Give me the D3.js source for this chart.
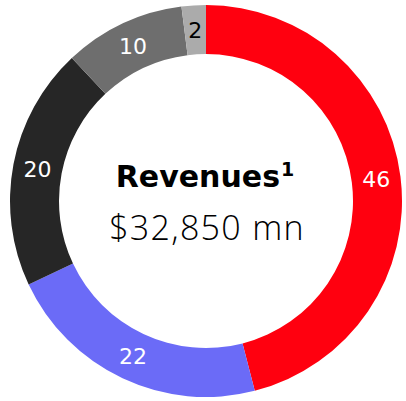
<!DOCTYPE html>
<html><head><meta charset="utf-8">
<script src="https://cdn.jsdelivr.net/npm/d3@7"></script>
<style>html,body{margin:0;padding:0;background:#fff;}svg{display:block;}</style>
</head><body>
<script>
const categories = ["A", "B", "C", "D", "E"];
const values = [46, 22, 20, 10, 2];
const colors = ["#FF000F", "#6B6BF7", "#262626", "#6E6E6E", "#ABABAB"];
const labelColors = ["#ffffff", "#ffffff", "#ffffff", "#ffffff", "#000000"];
const titleText = "Revenues";
const titleSup = "1";
const subtitleText = "$32,850 mn";

const W = 406, H = 401;
const cx = 206, cy = 201, R = 196, r = 147;
const svg = d3.select("body").append("svg").attr("width", W).attr("height", H);
const g = svg.append("g").attr("transform", `translate(${cx},${cy})`);

const data = categories.map((c, i) => ({cat: c, value: values[i], color: colors[i], lc: labelColors[i]}));
const pie = d3.pie().value(d => d.value).sort(null);
const arc = d3.arc().innerRadius(r).outerRadius(R);
const arcs = pie(data);

g.selectAll("path").data(arcs).join("path")
  .attr("d", arc).attr("fill", d => d.data.color);

g.selectAll("text.lbl").data(arcs).join("text")
  .attr("class", "lbl")
  .attr("transform", d => `translate(${arc.centroid(d)})`)
  .attr("text-anchor", "middle").attr("dy", "0.36em")
  .attr("font-family", "DejaVu Sans, sans-serif").attr("font-size", 22)
  .attr("fill", d => d.data.lc)
  .text(d => d.data.value);

const t = g.append("text").attr("text-anchor", "middle").attr("y", -14).attr("x", -1)
  .attr("font-family", "DejaVu Sans, sans-serif").attr("font-size", 30).attr("font-weight", 700).attr("fill", "#000");
t.append("tspan").text(titleText);
t.append("tspan").attr("font-size", 19).attr("dy", -11).attr("dx", 1).text(titleSup);

g.append("text").attr("text-anchor", "middle").attr("y", 39).attr("x", 1)
  .attr("font-family", "Open Sans, sans-serif").attr("font-size", 34).attr("font-weight", 300)
  .attr("letter-spacing", 1.3).attr("fill", "#000")
  .text(subtitleText);
</script>
</body></html>
